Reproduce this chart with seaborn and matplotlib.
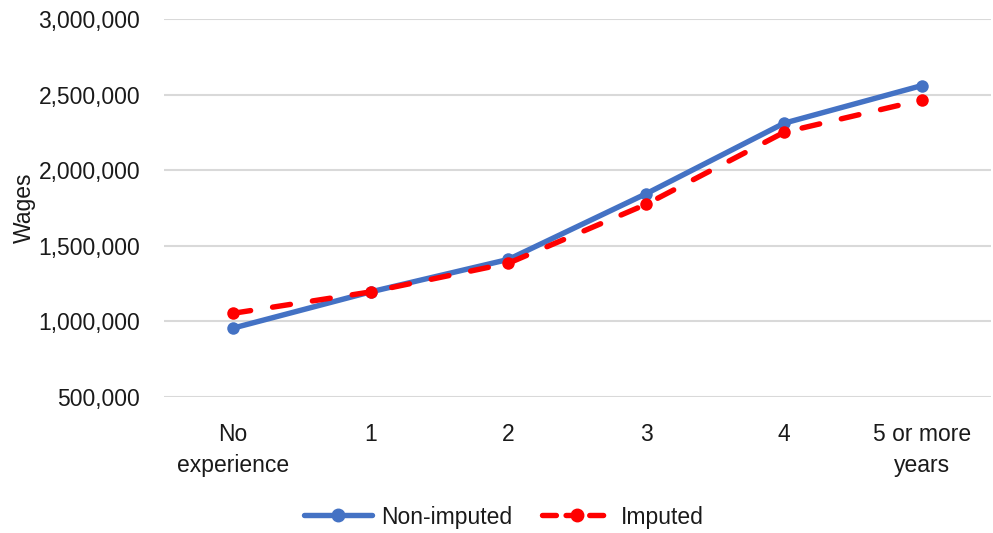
import matplotlib
matplotlib.use("Agg")
import matplotlib.pyplot as plt
import seaborn as sns
import pandas as pd
from matplotlib.ticker import FuncFormatter
from matplotlib.lines import Line2D

categories = ["No\nexperience", "1", "2", "3", "4", "5 or more\nyears"]
non_imputed = [955000, 1195000, 1410000, 1845000, 2311000, 2560000]
imputed = [1053000, 1195000, 1385000, 1775000, 2251000, 2465000]
series_names = ["Non-imputed", "Imputed"]
yticks = [500000, 1000000, 1500000, 2000000, 2500000, 3000000]

sns.set_theme(style="white")
plt.rcParams['font.family'] = ['Liberation Sans', 'DejaVu Sans']
plt.rcParams['lines.scale_dashes'] = False

df = pd.DataFrame({
    "cat": categories * 2,
    "x": list(range(len(categories))) * 2,
    "Wages": non_imputed + imputed,
    "series": [series_names[0]] * len(categories) + [series_names[1]] * len(categories),
})

fig = plt.figure(figsize=(9.93, 5.33), dpi=100)
ax = fig.add_axes([0.165, 0.2552, 0.833, 0.7092])

palette = {"Non-imputed": "#4472C4", "Imputed": "#FF0000"}
dashes = {"Non-imputed": "", "Imputed": (13, 16)}
sns.lineplot(data=df, x="x", y="Wages", hue="series", style="series",
             palette=palette, dashes=dashes, markers={"Non-imputed": "o", "Imputed": "o"},
             markersize=9, markeredgewidth=0, linewidth=3.9, ax=ax, legend=False,
             sort=False)
for line in ax.get_lines():
    line.set_dash_capstyle("round")
    line.set_solid_capstyle("round")

ax.set_xlim(-0.5, 5.5)
ax.set_ylim(500000, 3000000)
ax.set_yticks(yticks)
ax.yaxis.set_major_formatter(FuncFormatter(lambda v, p: f"{int(v):,}"))
ax.set_xticks(range(len(categories)))
ax.set_xticklabels(categories, linespacing=1.45)
ax.grid(axis="y", color="#d9d9d9", linewidth=1.5)
ax.set_axisbelow(True)
for s in ax.spines.values():
    s.set_visible(False)
ax.tick_params(axis="y", labelsize=16.5, pad=17, length=0, colors="#1a1a1a")
ax.tick_params(axis="x", labelsize=16.5, pad=19, length=0, colors="#1a1a1a")
ax.set_xlabel("")
ax.set_ylabel("Wages", fontsize=16.5, color="#1a1a1a")
ax.yaxis.set_label_coords(-0.155, 0.5)

handles = [
    Line2D([0], [0], color="#4472C4", lw=3.9, marker="o", markersize=9, solid_capstyle="round"),
    Line2D([0], [0], color="#FF0000", lw=3.9, marker="o", markersize=9, dashes=(10, 7), dash_capstyle="round"),
]
fig.legend(handles, series_names, loc="center", bbox_to_anchor=(0.507, 0.03), ncol=2,
           frameon=False, fontsize=16.5, handlelength=3.0, columnspacing=1.3, handletextpad=0.4,
           labelcolor="#1a1a1a")

fig.savefig("out.png", dpi=100)
